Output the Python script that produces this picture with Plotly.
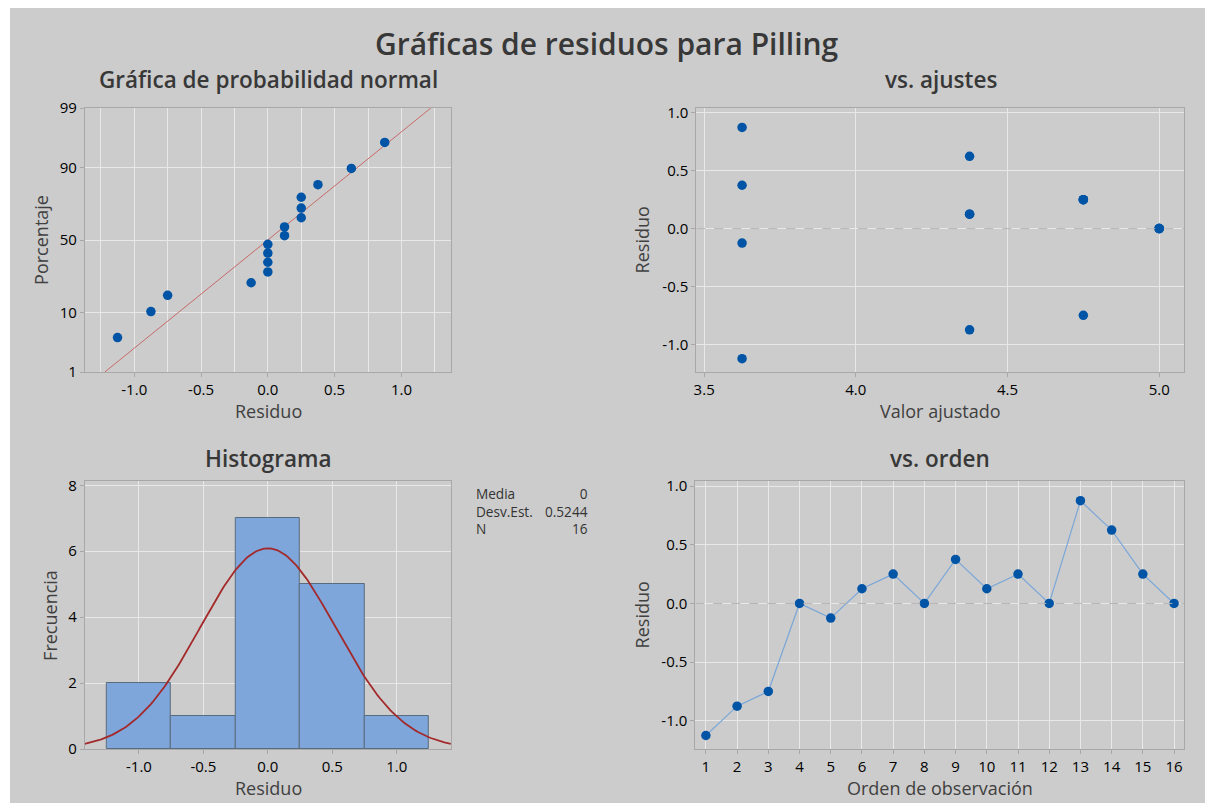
import math
from statistics import NormalDist
import plotly.graph_objects as go

W, H = 1205, 805

# ---------------- data ----------------
orden = list(range(1, 17))
residuos = [-1.125, -0.875, -0.75, 0.0, -0.125, 0.125, 0.25, 0.0,
            0.375, 0.125, 0.25, 0.0, 0.875, 0.625, 0.25, 0.0]
ajustes = [3.625, 4.375, 4.75, 5.0, 3.625, 4.375, 4.75, 5.0,
           3.625, 4.375, 4.75, 5.0, 3.625, 4.375, 4.75, 5.0]
pct_ticks = [1, 10, 50, 90, 99]
resid_ticks = [-1.0, -0.5, 0.0, 0.5, 1.0]
resid_tick_text = ["-1.0", "-0.5", "0.0", "0.5", "1.0"]
hist_start, hist_size, hist_end = -1.25, 0.5, 1.25

n = len(residuos)
media = sum(residuos) / n
desv = math.sqrt(sum((r - media) ** 2 for r in residuos) / (n - 1))
nd = NormalDist()

# normal probability plot positions (median ranks)
ordenados = sorted(residuos)
z_pts = [nd.inv_cdf((i - 0.3) / (n + 0.4)) for i in range(1, n + 1)]
z_ticks = [nd.inv_cdf(p / 100) for p in pct_ticks]
z_lo, z_hi = z_ticks[0], z_ticks[-1]
line_z = [z_lo, z_hi]
line_x = [media + desv * z for z in line_z]

# normal curve on histogram
xc_lo, xc_hi = -1.42, 1.42
curve_x = [xc_lo + (xc_hi - xc_lo) * k / 200 for k in range(201)]
curve_y = [n * hist_size * math.exp(-0.5 * ((x - media) / desv) ** 2) / (desv * math.sqrt(2 * math.pi))
           for x in curve_x]

# ---------------- helpers ----------------
# vertical mapping compensates the observed rendering (content drawn ~785px tall, 10px down)
Y_OFF, Y_SPAN = 10.0, 785.0

def px(x):
    return x / W

def py(y):
    return 1 - (y - Y_OFF) / Y_SPAN

FONT = "Open Sans, Noto Sans, sans-serif"
BLUE = "#0054a6"
GRID = "#e8e8e8"
FRAME = "#a8a8a8"

def ax(**kw):
    d = dict(showline=True, mirror=True, linecolor=FRAME, linewidth=1,
             ticks="outside", ticklen=4, tickcolor=FRAME,
             showgrid=True, gridcolor=GRID, gridwidth=1, zeroline=False,
             tickfont=dict(size=15, color="#000000", family=FONT, weight=500))
    d.update(kw)
    return d

fig = go.Figure()

# top-left: normal probability plot
fig.add_trace(go.Scatter(x=line_x, y=line_z, mode="lines",
                         line=dict(color="#c86a6a", width=1), xaxis="x", yaxis="y",
                         hoverinfo="skip"))
fig.add_trace(go.Scatter(x=ordenados, y=z_pts, mode="markers",
                         marker=dict(color=BLUE, size=9.5), xaxis="x", yaxis="y"))

# top-right: vs ajustes
fig.add_trace(go.Scatter(x=ajustes, y=residuos, mode="markers",
                         marker=dict(color=BLUE, size=9.5), xaxis="x2", yaxis="y2"))

# bottom-left: histogram
fig.add_trace(go.Histogram(x=residuos, xbins=dict(start=hist_start, end=hist_end, size=hist_size),
                           marker=dict(color="#7ea6da", line=dict(color="#5b6b7e", width=1)),
                           xaxis="x3", yaxis="y3"))
fig.add_trace(go.Scatter(x=curve_x, y=curve_y, mode="lines",
                         line=dict(color="#a3292b", width=1.8), xaxis="x3", yaxis="y3",
                         hoverinfo="skip"))

# bottom-right: vs orden
fig.add_trace(go.Scatter(x=orden, y=residuos, mode="lines+markers",
                         line=dict(color="#7ba7d8", width=1.2),
                         marker=dict(color=BLUE, size=9.5), xaxis="x4", yaxis="y4"))

# domains from pixel boxes (reference picture pixels)
TL = (82, 449, 107, 371)
TR = (695, 1184, 107, 371)
BL = (82, 449, 480, 748)
BR = (694, 1184, 480, 748)

def xd(b):
    return [px(b[0]), px(b[1])]

def yd(b):
    return [max(0.0, py(b[3])), min(1.0, py(b[2]))]

resid_axis = dict(tickvals=resid_ticks, ticktext=resid_tick_text)

fig.update_layout(
    width=W, height=H,
    autosize=False,
    margin=dict(l=0, r=0, t=0, b=0),
    paper_bgcolor="#ffffff",
    plot_bgcolor="#ffffff",
    showlegend=False,
    bargap=0,
    font=dict(family=FONT, color="#333333"),
    xaxis=ax(domain=xd(TL), anchor="y", range=[-1.37, 1.37], **resid_axis,
             minor=dict(dtick=0.25, tick0=0, showgrid=True, gridcolor=GRID, ticks="")),
    yaxis=ax(domain=yd(TL), anchor="x", range=[z_lo, z_hi],
             tickvals=z_ticks, ticktext=[str(p) for p in pct_ticks]),
    xaxis2=ax(domain=xd(TR), anchor="y2", range=[3.474, 5.082], dtick=0.5, tick0=3.5,
              tickformat=".1f"),
    yaxis2=ax(domain=yd(TR), anchor="x2", range=[-1.24, 1.043], **resid_axis),
    xaxis3=ax(domain=xd(BL), anchor="y3", range=[-1.42, 1.42], **resid_axis),
    yaxis3=ax(domain=yd(BL), anchor="x3", range=[0, 8.13], dtick=2, tick0=0),
    xaxis4=ax(domain=xd(BR), anchor="y4", range=[0.66, 16.32], dtick=1, tick0=1),
    yaxis4=ax(domain=yd(BR), anchor="x4", range=[-1.24, 1.043], **resid_axis),
)

# background gray panel and zero reference lines
shapes = [
    dict(type="rect", xref="paper", yref="paper", x0=px(7), x1=1.01, y0=py(802), y1=py(7),
         fillcolor="#cccccc", line=dict(width=0), layer="below"),
]
for xa, ya in (("x2", "y2"), ("x4", "y4")):
    shapes.append(dict(type="line", xref=f"{xa} domain", yref=ya, x0=0, x1=1, y0=0, y1=0,
                       line=dict(color="#b4b4b4", width=1, dash="dash"), layer="above"))
fig.update_layout(shapes=shapes)

ann = []

def text(x, y, s, size, color="#333333", angle=0, xanchor="center", weight="normal",
         yanchor="middle", align="center"):
    ann.append(dict(x=px(x), y=py(y), xref="paper", yref="paper", text=s, showarrow=False,
                    font=dict(size=size, color=color, family=FONT, weight=weight),
                    textangle=angle, xanchor=xanchor, yanchor=yanchor, align=align))

# titles
text(606, 43, "Gráficas de residuos para Pilling", 30, "#383838", weight=600)
text(266, 79, "Gráfica de probabilidad normal", 22.5, "#383838", weight=600)
text(940, 79, "vs. ajustes", 22.5, "#383838", weight=600)
text(266, 457, "Histograma", 22.5, "#383838", weight=600)
text(939, 457, "vs. orden", 22.5, "#383838", weight=600)

# axis titles
text(266, 410, "Residuo", 18, "#404040")
text(940, 410, "Valor ajustado", 18, "#404040")
text(266, 787, "Residuo", 18, "#404040")
text(939, 787, "Orden de observación", 18, "#404040")
text(38, 239, "Porcentaje", 18, "#404040", angle=-90)
text(641, 239, "Residuo", 18, "#404040", angle=-90)
text(47, 614, "Frecuencia", 18, "#404040", angle=-90)
text(641, 614, "Residuo", 18, "#404040", angle=-90)

# statistics box: labels column and values column
stats_lbl = ["Media", "Desv.Est.", "N"]
stats_val = [f"{media:.0f}" if abs(media) < 1e-12 else f"{media:.4f}", f"{desv:.4f}", str(n)]
text(472, 510, "<br>".join(stats_lbl), 13.6, "#333333", xanchor="left", align="left")
text(588, 510, "<br>".join(stats_val), 13.6, "#333333", xanchor="right", align="right")

fig.update_layout(annotations=ann)

fig.write_html("out.html",
               config={"displayModeBar": False},
               post_script="document.body.style.margin='0';document.body.style.overflow='hidden';")
